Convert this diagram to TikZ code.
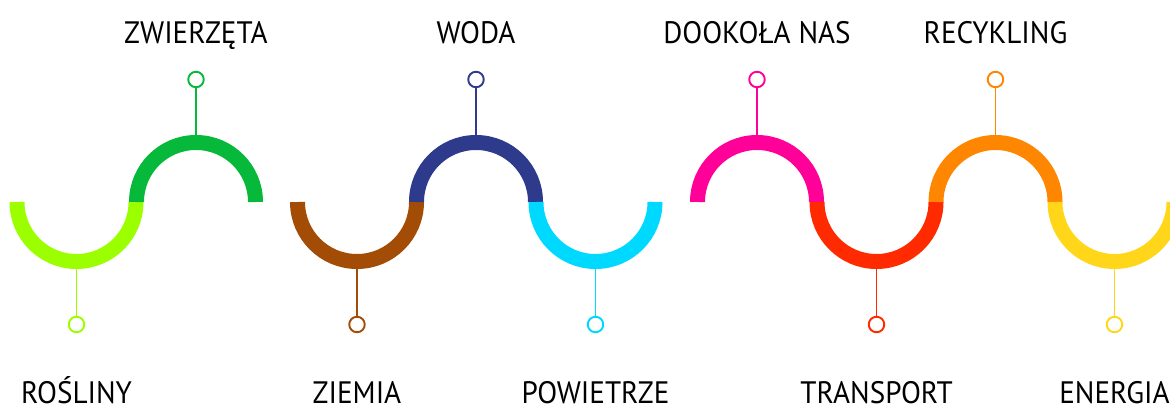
\documentclass[tikz,border=0pt]{standalone}
\usepackage{fontspec}
\setmainfont{PT Sans}
\definecolor{cLime}{HTML}{9CFF00}
\definecolor{cGreen}{HTML}{07B93B}
\definecolor{cBrown}{HTML}{A34C06}
\definecolor{cNavy}{HTML}{2E3A8C}
\definecolor{cCyan}{HTML}{00D9FF}
\definecolor{cMagenta}{HTML}{FF0099}
\definecolor{cRed}{HTML}{FF2A00}
\definecolor{cOrange}{HTML}{FF8600}
\definecolor{cYellow}{HTML}{FFD61A}
\tikzset{
  band/.style={line width=15pt, line cap=butt},
  stem/.style={line width=1.9pt},
  pin/.style={circle, draw, line width=1.9pt, minimum size=15.5pt, inner sep=0pt, fill=white},
  caption/.style={anchor=base, inner sep=0pt, font=\fontsize{31}{31}\selectfont}
}
\newcommand{\narrow}[1]{\scalebox{0.94}[1]{#1}}
\begin{document}
\begin{tikzpicture}[x=1pt,y=1pt]
\useasboundingbox (0,0) rectangle (1170,408);
% wave segments: centre x, colour, side (1 = above, -1 = below), label baseline, label, name
\foreach \cx/\col/\s/\ly/\txt/\nm in {
  76.5/cLime/-1/4.5/ROŚLINY/a,
  196/cGreen/1/364.5/ZWIERZĘTA/b,
  357/cBrown/-1/4.5/ZIEMIA/c,
  476/cNavy/1/364.5/WODA/d,
  595.5/cCyan/-1/4.5/POWIETRZE/e,
  757/cMagenta/1/364.5/DOOKOŁA NAS/f,
  876.5/cRed/-1/4.5/TRANSPORT/g,
  995.5/cOrange/1/364.5/RECYKLING/h,
  1114.5/cYellow/-1/4.5/ENERGIA/i}{
  \draw[band, \col] (\cx-59.5,206) arc[start angle=180, end angle={180-180*\s}, radius=59.5];
  \coordinate (edge\nm) at (\cx,{206+67*\s});
  \node[pin, draw=\col] (pin\nm) at (\cx,{206+122.5*\s}) {};
  \node[caption] (lab\nm) at (\cx,\ly) {\narrow{\txt}};
  \draw[stem, \col] (edge\nm) -- (pin\nm);
}
\end{tikzpicture}
\end{document}
